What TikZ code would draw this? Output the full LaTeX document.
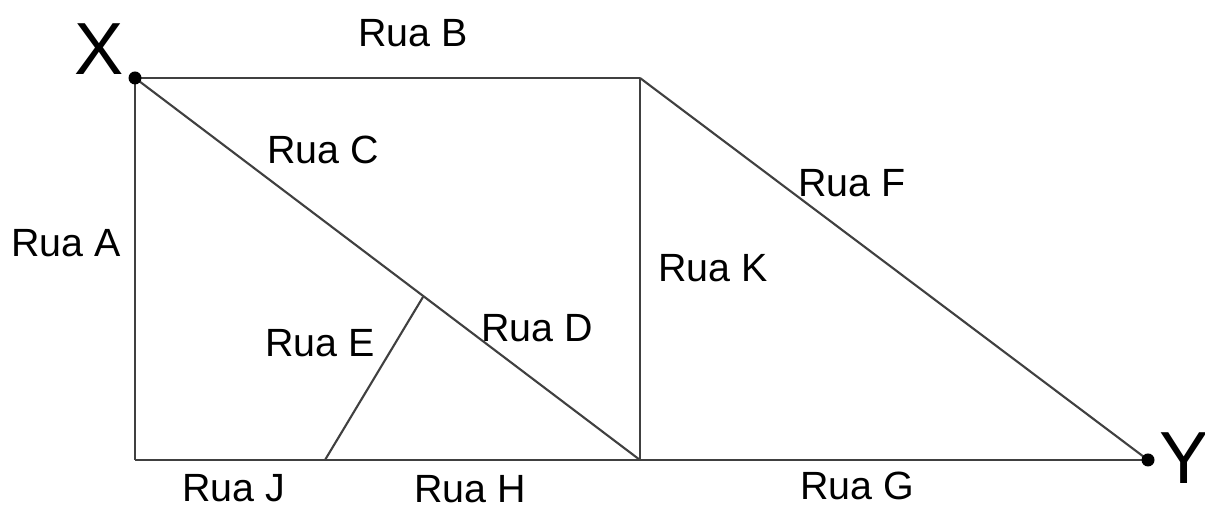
\documentclass[tikz,border=0pt]{standalone}
\usepackage{fontspec}
\setmainfont{Liberation Sans}
\usepackage{tikz}

\begin{document}
\begin{tikzpicture}[x=0.01cm,y=-0.01cm,street/.style={draw=black!75,line width=0.6pt},street label/.style={font=\fontsize{11.2}{13}\selectfont,inner sep=1pt},end label/.style={font=\fontsize{21}{24}\selectfont,inner sep=1pt}]
    \useasboundingbox (0,0) rectangle (1205,507);

    \coordinate (X) at (135,78);
    \coordinate (tm) at (640,78);
    \coordinate (bl) at (135,460);
    \coordinate (bm) at (640,460);
    \coordinate (Y) at (1148,460);
    \coordinate (e1) at (423,297);
    \coordinate (e2) at (325,460);

    \path[street]
        (X) edge (tm)
        (X) edge (bl)
        (X) edge (bm)
        (tm) edge (bm)
        (tm) edge (Y)
        (bl) edge (Y)
        (e1) edge (e2);

    \fill (X) circle (6.5);
    \fill (Y) circle (6.5);

    \node[end label] (xl) at (99,49) {X};
    \node[end label] (yl) at (1184,458) {Y};

    \node[street label] (a) at (66,243) {Rua A};
    \node[street label] (b) at (413,33) {Rua B};
    \node[street label] (c) at (323,150) {Rua C};
    \node[street label] (d) at (537,328) {Rua D};
    \node[street label] (e) at (320,343) {Rua E};
    \node[street label] (f) at (852,183) {Rua F};
    \node[street label] (g) at (857,486) {Rua G};
    \node[street label] (h) at (470,489) {Rua H};
    \node[street label] (j) at (234,488) {Rua J};
    \node[street label] (k) at (713,268) {Rua K};

\end{tikzpicture}
\end{document}
